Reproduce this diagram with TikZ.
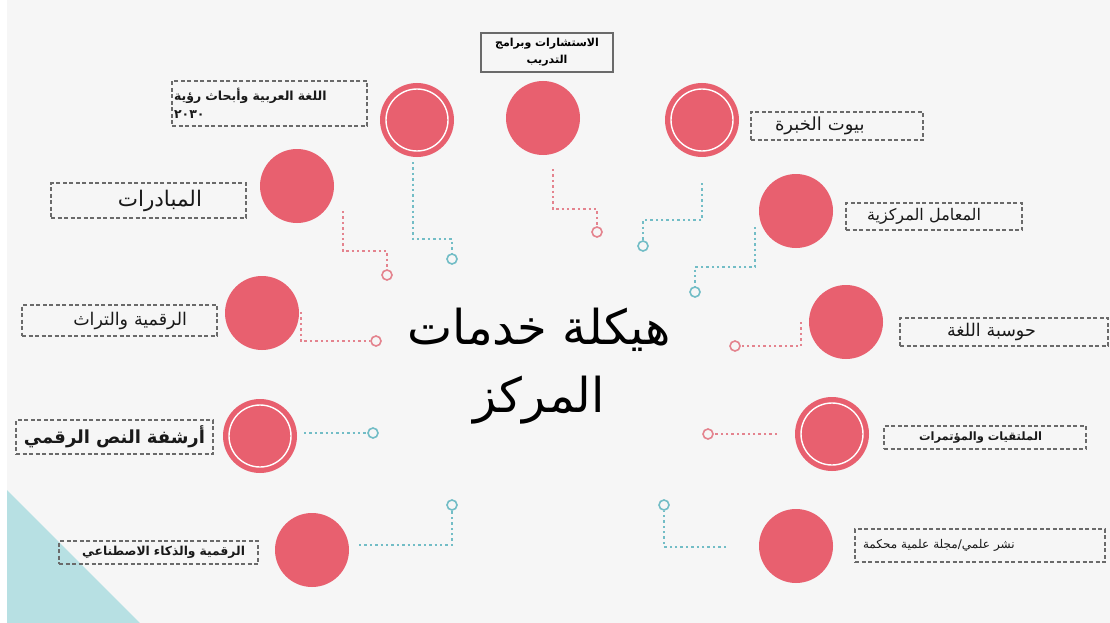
\documentclass[tikz,border=0pt]{standalone}
\usepackage{fontspec}
\newfontfamily\arabicfont[Script=Arabic]{DejaVu Sans}
\TeXXeTstate=1
\definecolor{paper}{HTML}{F6F6F6}
\definecolor{discred}{HTML}{E8606F}
\definecolor{pinkdot}{HTML}{E4838E}
\definecolor{tealdot}{HTML}{72BDC6}
\definecolor{tri}{HTML}{B7E0E3}
\definecolor{boxgray}{HTML}{6A6A6A}
\newcommand{\artext}[1]{\beginR #1\endR}

\begin{document}
\begin{tikzpicture}
        [x=1pt, y=-1pt,
        disc/.style={circle, fill=discred, minimum size=74pt, inner sep=0pt},
        ring/.style={white, line width=1.4pt},
        lbox/.style={draw=boxgray, dashed, dash pattern=on 4pt off 2.5pt, line width=1.1pt, inner ysep=0pt, text=black!90},
        endring/.style={circle, fill=paper, line width=1.6pt, minimum size=10pt, inner sep=0pt},
        pinkline/.style={pinkdot, line width=2.4pt, dash pattern=on 2.4pt off 3pt},
        tealline/.style={tealdot, line width=2.4pt, dash pattern=on 2.4pt off 3pt}]

        \useasboundingbox (0,0) rectangle (1110,623);
        \fill[white] (0,0) rectangle (1110,623);
        \fill[paper] (7,0) rectangle (1110,623);
        \fill[tri] (7,490) -- (7,623) -- (140,623) -- cycle;

        % centre title
        \node[font=\arabicfont\fontsize{48}{68}\selectfont, align=center] (title) at (539,366) {\artext{هيكلة خدمات}\\\artext{المركز}};

        % discs
        \node[disc] (vision) at (417,120) {};
        \node[disc] (consult) at (543,118) {};
        \node[disc] (expert) at (702,120) {};
        \node[disc] (init) at (297,186) {};
        \node[disc] (labs) at (796,211) {};
        \node[disc] (heritage) at (262,313) {};
        \node[disc] (comp) at (846,322) {};
        \node[disc] (archive) at (260,436) {};
        \node[disc] (conf) at (832,434) {};
        \node[disc] (ai) at (312,550) {};
        \node[disc] (pub) at (796,546) {};

        \draw[ring] (vision) circle[radius=31pt];
        \draw[ring] (expert) circle[radius=31pt];
        \draw[ring] (archive) circle[radius=31pt];
        \draw[ring] (conf) circle[radius=31pt];

        % labels
        \node[lbox, align=left, text width=191pt, inner xsep=2pt, minimum height=45pt, font=\arabicfont\bfseries\fontsize{12.5}{18}\selectfont] (l-vision) at (269.5,103.5) {\artext{اللغة العربية وأبحاث رؤية}\\٢٠٣٠};
        \node[draw=boxgray, line width=1.1pt, align=center, text width=128pt, inner xsep=2pt, inner ysep=0pt, minimum height=39pt, font=\arabicfont\bfseries\fontsize{11}{17}\selectfont] (l-consult) at (547,52.5) {\artext{الاستشارات وبرامج}\\\artext{التدريب}};
        \node[lbox, align=left, text width=124pt, inner xsep=24pt, minimum height=28pt, font=\arabicfont\fontsize{18}{21}\selectfont] (l-expert) at (837,126) {\artext{بيوت الخبرة}};
        \node[lbox, align=right, text width=107pt, inner xsep=44pt, minimum height=35pt, font=\arabicfont\fontsize{21.5}{25}\selectfont] (l-init) at (148.5,200.5) {\artext{المبادرات}};
        \node[lbox, align=left, text width=134pt, inner xsep=21pt, minimum height=27pt, font=\arabicfont\fontsize{16}{19}\selectfont] (l-labs) at (934,216.5) {\artext{المعامل المركزية}};
        \node[lbox, align=right, text width=135pt, inner xsep=30pt, minimum height=31pt, font=\arabicfont\fontsize{17.5}{21}\selectfont] (l-heritage) at (119.5,320.5) {\artext{الرقمية والتراث}};
        \node[lbox, align=left, text width=114pt, inner xsep=47pt, minimum height=28pt, font=\arabicfont\fontsize{17.5}{21}\selectfont] (l-comp) at (1004,332) {\artext{حوسبة اللغة}};
        \node[lbox, align=center, text width=191pt, inner xsep=3pt, minimum height=34pt, font=\arabicfont\bfseries\fontsize{18}{21}\selectfont] (l-archive) at (114.5,437) {\artext{أرشفة النص الرقمي}};
        \node[lbox, align=left, text width=132pt, inner xsep=35pt, minimum height=23pt, font=\arabicfont\bfseries\fontsize{11.5}{13}\selectfont] (l-conf) at (985,437.5) {\artext{الملتقيات والمؤتمرات}};
        \node[lbox, align=right, text width=173pt, inner xsep=13pt, minimum height=23pt, font=\arabicfont\bfseries\fontsize{12.3}{14}\selectfont] (l-ai) at (158.5,552.5) {\artext{الرقمية والذكاء الاصطناعي}};
        \node[lbox, align=left, text width=234pt, inner xsep=8pt, minimum height=33pt, font=\arabicfont\fontsize{12}{14}\selectfont] (l-pub) at (980,545.5) {\artext{نشر علمي/مجلة علمية محكمة}};

        % connector rings
        \node[endring, draw=tealdot] (e-vision) at (452,259) {};
        \node[endring, draw=pinkdot] (e-init) at (387,275) {};
        \node[endring, draw=pinkdot] (e-consult) at (597,232) {};
        \node[endring, draw=tealdot] (e-expert) at (643,246) {};
        \node[endring, draw=tealdot] (e-labs) at (695,292) {};
        \node[endring, draw=pinkdot] (e-heritage) at (376,341) {};
        \node[endring, draw=pinkdot] (e-comp) at (735,346) {};
        \node[endring, draw=tealdot] (e-archive) at (373,433) {};
        \node[endring, draw=pinkdot] (e-conf) at (708,434) {};
        \node[endring, draw=tealdot] (e-ai) at (452,505) {};
        \node[endring, draw=tealdot] (e-pub) at (664,505) {};

        \coordinate (s-vision) at (413,162);
        \coordinate (s-init) at (343,211);
        \coordinate (s-consult) at (553,169);
        \coordinate (s-expert) at (702,183);
        \coordinate (s-labs) at (755,227);
        \coordinate (s-heritage) at (301,312);
        \coordinate (s-comp) at (801,322);
        \coordinate (s-archive) at (304,433);
        \coordinate (s-conf) at (777,434);
        \coordinate (s-ai) at (359,545);
        \coordinate (s-pub) at (726,547);

        % dotted connectors
        \draw[tealline] (s-vision) -- ++(0,77) -| (e-vision);
        \draw[pinkline] (s-init) -- ++(0,40) -| (e-init);
        \draw[pinkline] (s-consult) -- ++(0,40) -| (e-consult);
        \draw[tealline] (s-expert) -- ++(0,37) -| (e-expert);
        \draw[tealline] (s-labs) -- ++(0,40) -| (e-labs);
        \draw[pinkline] (s-heritage) |- (e-heritage);
        \draw[pinkline] (s-comp) |- (e-comp);
        \draw[tealline] (s-archive) -- (e-archive);
        \draw[pinkline] (s-conf) -- (e-conf);
        \draw[tealline] (s-ai) -| (e-ai);
        \draw[tealline] (s-pub) -| (e-pub);

    \end{tikzpicture}
\end{document}
